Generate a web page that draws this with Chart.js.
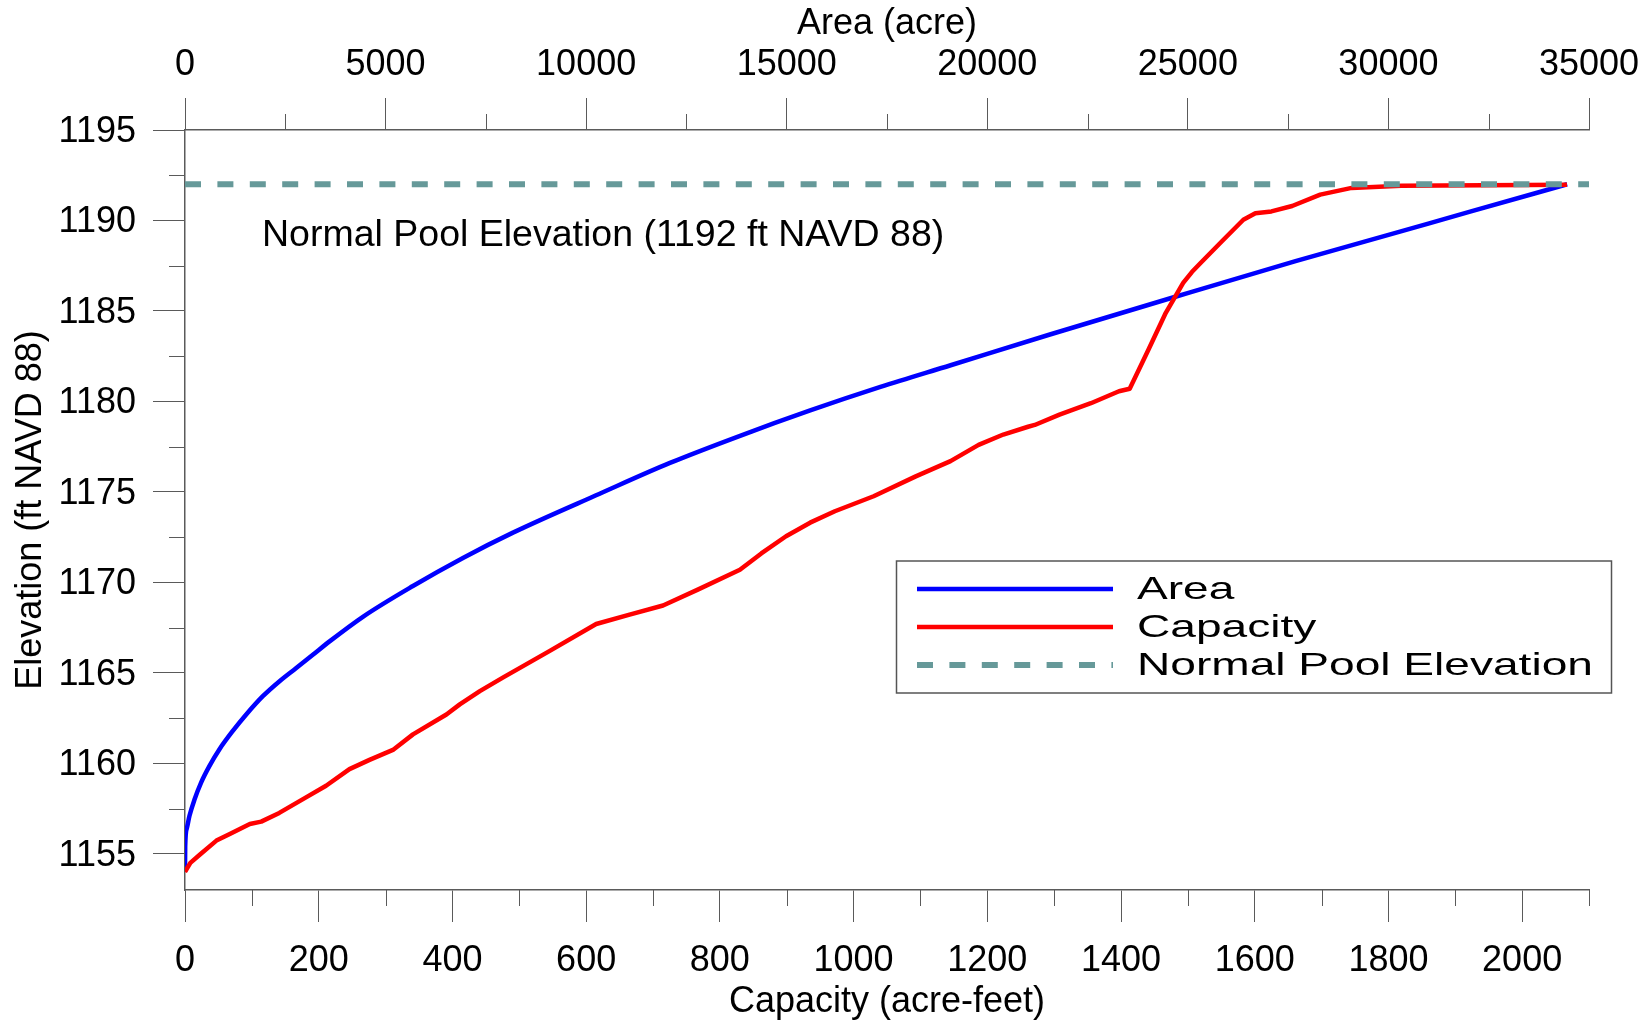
<!DOCTYPE html>
<html>
<head>
<meta charset="utf-8">
<script src="https://cdn.jsdelivr.net/npm/chart.js@4.4.0/dist/chart.umd.min.js"></script>
<style>
  html, body { margin: 0; padding: 0; background: #ffffff; }
  #wrap { width: 1652px; height: 1022px; position: relative; }
</style>
</head>
<body>
<div id="wrap"><canvas id="chart"></canvas></div>
<script>
// ---------------- DATA ----------------
const capacityTickValues = [0, 200, 400, 600, 800, 1000, 1200, 1400, 1600, 1800, 2000];
const capacityMinorTicks = [100, 300, 500, 700, 900, 1100, 1300, 1500, 1700, 1900, 2100];
const areaTickValues = [0, 5000, 10000, 15000, 20000, 25000, 30000, 35000];
const areaMinorTicks = [2500, 7500, 12500, 17500, 22500, 27500, 32500];
const elevTickValues = [1155, 1160, 1165, 1170, 1175, 1180, 1185, 1190, 1195];
const elevMinorTicks = [1157.5, 1162.5, 1167.5, 1172.5, 1177.5, 1182.5, 1187.5, 1192.5];

// Area curve (acre) vs elevation (ft NAVD 88)
const areaAcres = [0, 5, 45, 112, 237, 404, 611, 860, 1192, 1526, 1940, 2357, 2773, 3187, 3604, 4435, 5682, 6929, 8176,
  10338, 12089, 13837, 15585, 17336, 19087, 21561, 24710, 27684, 30310, 32058, 34455];
const areaElev = [1154.0, 1155.4, 1156.4, 1157.1, 1158.0, 1158.95, 1159.86, 1160.78, 1161.79, 1162.7, 1163.71, 1164.54, 1165.27, 1166.0, 1166.74, 1168.1, 1169.8, 1171.35, 1172.75,
  1174.9, 1176.6, 1178.1, 1179.5, 1180.8, 1182.0, 1183.7, 1185.8, 1187.75, 1189.4, 1190.5, 1192.0];

// Capacity curve (acre-feet) vs elevation (ft NAVD 88)
const capacityAcreFeet = [0, 8, 22, 47, 67, 97, 114, 141, 181, 211, 246, 276, 311, 341, 391, 411, 441, 476, 545, 615, 665, 715,
  767, 830, 862, 899, 935, 972, 1030, 1093, 1145, 1187, 1224, 1261, 1271, 1308, 1355, 1397, 1413,
  1441, 1467, 1493, 1506, 1519, 1551, 1583, 1601, 1625, 1656, 1698, 1745, 1819, 2067];
const capacityElev = [1154.0, 1154.5, 1154.95, 1155.73, 1156.1, 1156.65, 1156.78, 1157.26, 1158.12, 1158.76, 1159.68, 1160.19, 1160.74, 1161.6, 1162.7, 1163.26, 1163.99, 1164.75, 1166.2, 1167.7, 1168.22, 1168.72,
  1169.6, 1170.7, 1171.6, 1172.55, 1173.3, 1173.93, 1174.76, 1175.86, 1176.7, 1177.6, 1178.17, 1178.6, 1178.7, 1179.27, 1179.9, 1180.56, 1180.7,
  1182.86, 1184.9, 1186.55, 1187.15, 1187.65, 1188.85, 1190.04, 1190.4, 1190.5, 1190.8, 1191.43, 1191.8, 1191.92, 1191.98];

// Normal pool elevation line (capacity axis extent)
const normalPoolCapacity = [0, 2100];
const normalPoolElev = [1192, 1192];

const seriesLabels = ['Area', 'Capacity', 'Normal Pool Elevation'];
const annotationText = 'Normal Pool Elevation (1192 ft NAVD 88)';

// ---------------- STYLE ----------------
const FONT = '"Liberation Sans", Arial, Helvetica, sans-serif';
const AXIS_COLOR = '#5a5a5a';
Chart.defaults.font.family = FONT;
Chart.defaults.color = '#000000';

const toPoints = (xs, ys) => xs.map((v, i) => ({ x: v, y: ys[i] }));
const plainLabel = v => String(v);

const minorTickPlugin = {
  id: 'minorTicks',
  afterDraw(chart) {
    const { ctx, scales } = chart;
    const x = scales.x, x2 = scales.x2, y = scales.y;
    ctx.save();
    ctx.strokeStyle = AXIS_COLOR;
    ctx.lineWidth = 1;
    ctx.beginPath();
    capacityMinorTicks.forEach(v => {
      const px = Math.round(x.getPixelForValue(v)) + 0.5;
      ctx.moveTo(px, x.top); ctx.lineTo(px, x.top + 16);
    });
    areaMinorTicks.forEach(v => {
      const px = Math.round(x2.getPixelForValue(v)) + 0.5;
      ctx.moveTo(px, x2.bottom); ctx.lineTo(px, x2.bottom - 16);
    });
    elevMinorTicks.forEach(v => {
      const py = Math.round(y.getPixelForValue(v)) + 0.5;
      ctx.moveTo(y.right, py); ctx.lineTo(y.right - 16, py);
    });
    ctx.stroke();
    ctx.restore();
  }
};

const annotationPlugin = {
  id: 'poolAnnotation',
  afterDraw(chart) {
    const { ctx, chartArea, scales } = chart;
    ctx.save();
    ctx.font = '37.5px ' + FONT;
    ctx.fillStyle = '#000000';
    ctx.textAlign = 'left';
    ctx.textBaseline = 'alphabetic';
    ctx.fillText(annotationText, chartArea.left + 77, scales.y.getPixelForValue(1188.6));
    ctx.restore();
  }
};

const boxLegendPlugin = {
  id: 'boxLegend',
  afterDraw(chart) {
    const { ctx } = chart;
    const bx = 896.5, by = 561, bw = 715, bh = 132;
    ctx.save();
    ctx.strokeStyle = '#555555';
    ctx.lineWidth = 1.5;
    ctx.strokeRect(bx, by, bw, bh);
    const rowY = [589, 627, 665];
    chart.data.datasets.forEach((ds, i) => {
      const yy = rowY[i];
      ctx.save();
      ctx.strokeStyle = ds.borderColor;
      ctx.lineWidth = ds.borderWidth;
      ctx.setLineDash(ds.borderDash || []);
      ctx.beginPath();
      ctx.moveTo(917, yy);
      ctx.lineTo(1113, yy);
      ctx.stroke();
      ctx.restore();
      ctx.save();
      ctx.font = '32px ' + FONT;
      ctx.fillStyle = '#000000';
      ctx.textBaseline = 'middle';
      ctx.textAlign = 'left';
      ctx.translate(1137, yy + 1);
      ctx.scale(1.44, 1);
      ctx.fillText(ds.label, 0, 0);
      ctx.restore();
    });
    ctx.restore();
  }
};

const tickFont = { size: 36, family: FONT };
const titleFont = { size: 36, family: FONT };

new Chart(document.getElementById('chart'), {
  type: 'line',
  data: {
    datasets: [
      {
        label: seriesLabels[0],
        data: toPoints(areaAcres, areaElev),
        xAxisID: 'x2', yAxisID: 'y',
        borderColor: '#0000ff', borderWidth: 4.5,
        pointRadius: 0, fill: false,
        cubicInterpolationMode: 'monotone',
        order: 2
      },
      {
        label: seriesLabels[1],
        data: toPoints(capacityAcreFeet, capacityElev),
        xAxisID: 'x', yAxisID: 'y',
        borderColor: '#ff0000', borderWidth: 4.5,
        borderJoinStyle: 'round',
        pointRadius: 0, fill: false, tension: 0,
        order: 1
      },
      {
        label: seriesLabels[2],
        data: toPoints(normalPoolCapacity, normalPoolElev),
        xAxisID: 'x', yAxisID: 'y',
        borderColor: '#669999', borderWidth: 6,
        borderDash: [16, 16.4],
        pointRadius: 0, fill: false,
        order: 0
      }
    ]
  },
  options: {
    responsive: true,
    maintainAspectRatio: false,
    animation: false,
    devicePixelRatio: 1,
    layout: { padding: { left: 0, right: 63, top: 0, bottom: 0 } },
    plugins: { legend: { display: false }, tooltip: { enabled: false } },
    scales: {
      x: {
        type: 'linear', position: 'bottom', min: 0, max: 2100,
        afterBuildTicks: s => { s.ticks = capacityTickValues.map(v => ({ value: v })); },
        afterFit: s => { s.height = 132; },
        ticks: { font: tickFont, color: '#000', padding: 17.5, maxRotation: 0, autoSkip: false, callback: plainLabel },
        grid: { display: true, drawOnChartArea: false, drawTicks: true, tickLength: 32, color: AXIS_COLOR, lineWidth: 1 },
        border: { display: true, color: AXIS_COLOR, width: 1.5 },
        title: { display: true, text: 'Capacity (acre-feet)', font: titleFont, color: '#000', padding: { top: 0, bottom: -1.6 } }
      },
      x2: {
        type: 'linear', position: 'top', min: 0, max: 35000,
        afterBuildTicks: s => { s.ticks = areaTickValues.map(v => ({ value: v })); },
        afterFit: s => { s.height = 130; },
        ticks: { font: tickFont, color: '#000', padding: 11.5, maxRotation: 0, autoSkip: false, callback: plainLabel },
        grid: { display: true, drawOnChartArea: false, drawTicks: true, tickLength: 32, color: AXIS_COLOR, lineWidth: 1 },
        border: { display: true, color: AXIS_COLOR, width: 1.5 },
        title: { display: true, text: 'Area (acre)', font: titleFont, color: '#000', padding: { top: 2.4, bottom: 0 } }
      },
      y: {
        type: 'linear', position: 'left', min: 1153, max: 1195,
        afterBuildTicks: s => { s.ticks = elevTickValues.map(v => ({ value: v })); },
        afterFit: s => { s.width = 185; },
        ticks: { font: tickFont, color: '#000', padding: 17, labelOffset: 2, autoSkip: false, callback: plainLabel },
        grid: { display: true, drawOnChartArea: false, drawTicks: true, tickLength: 32, color: AXIS_COLOR, lineWidth: 1 },
        border: { display: true, color: AXIS_COLOR, width: 1.5 },
        title: { display: true, text: 'Elevation (ft NAVD 88)', font: titleFont, color: '#000', padding: { top: 9, bottom: 0 } }
      }
    }
  },
  plugins: [minorTickPlugin, annotationPlugin, boxLegendPlugin]
});
</script>
</body>
</html>
